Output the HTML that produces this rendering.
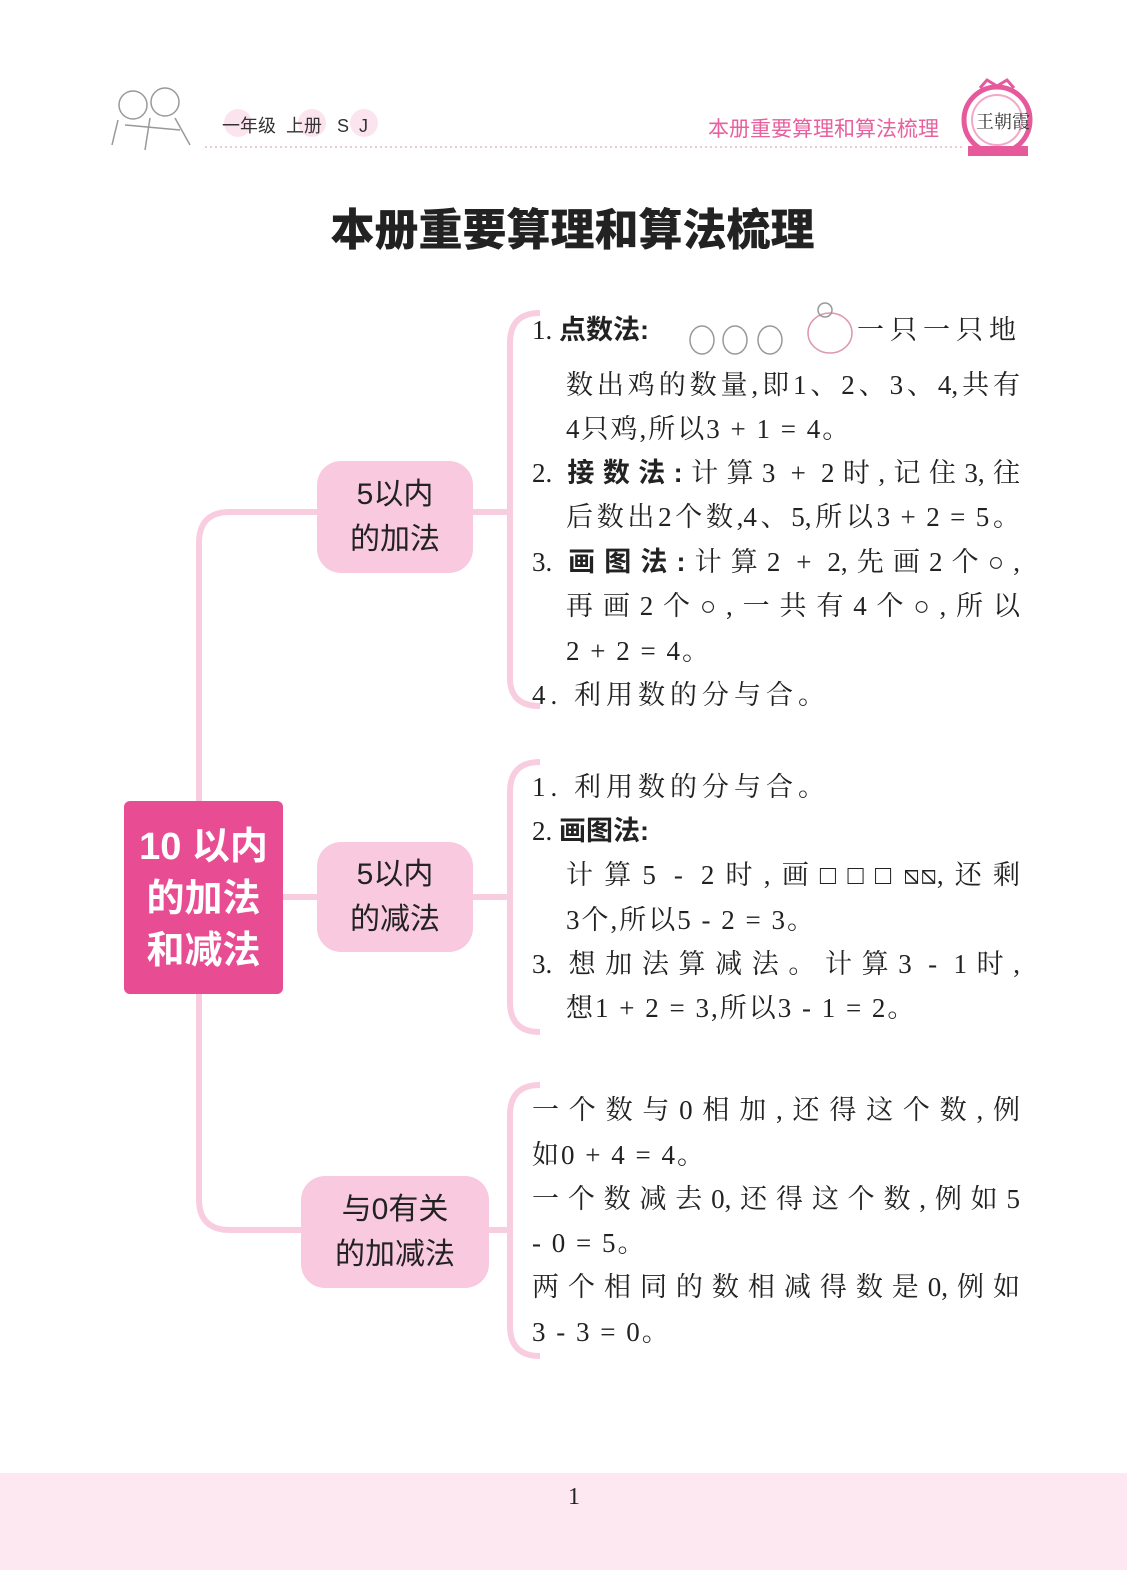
<!DOCTYPE html>
<html><head><meta charset="utf-8"><style>
*{margin:0;padding:0;box-sizing:border-box}
body{width:1127px;height:1570px;background:#fff;position:relative;overflow:hidden;font-family:"Liberation Sans","Noto Sans CJK SC",sans-serif}
.a{position:absolute}
.t{position:absolute;font-family:"Liberation Serif","Noto Serif CJK SC",serif;font-size:27px;color:#222;white-space:nowrap;line-height:1}
.j{text-align:justify;text-align-last:justify}
.n{position:absolute;background:#f9c9df;border-radius:24px;color:#222;font-size:30px;text-align:center;line-height:45px;display:flex;flex-direction:column;justify-content:center}
.b{font-weight:bold;font-family:"Liberation Sans","Noto Sans CJK SC",sans-serif}
</style></head><body>
<svg class="a" style="left:0;top:0" width="1127" height="170">
<g fill="none" stroke="#999" stroke-width="1.5"><circle cx="133" cy="105" r="14"/><circle cx="165" cy="102" r="14"/><path d="M118 120 L112 145 M150 118 L145 150 M175 118 L190 145 M125 125 L180 130"/></g>
<circle cx="238" cy="123" r="14" fill="#fce4ef"/><circle cx="312" cy="123" r="14" fill="#fce4ef"/><circle cx="364" cy="123" r="14" fill="#fce4ef"/>
<line x1="205" y1="147" x2="965" y2="147" stroke="#e8b8cc" stroke-width="1.5" stroke-dasharray="2 3"/>
<circle cx="997" cy="120" r="33" fill="#fff" stroke="#e65a9c" stroke-width="5"/>
<circle cx="997" cy="120" r="25" fill="none" stroke="#f2a8c8" stroke-width="2"/>
<rect x="968" y="146" width="60" height="10" fill="#e65a9c"/>
<path d="M980 88 L987 80 L997 86 L1007 80 L1014 88" fill="none" stroke="#e65a9c" stroke-width="3"/>
</svg>
<div class="a" style="left:222px;top:112px;font-size:18px;color:#333">一年级 &nbsp;上册 &nbsp;&nbsp;S&nbsp; J</div>
<div class="a" style="left:708px;top:113px;font-size:21px;color:#e8609e">本册重要算理和算法梳理</div>
<div class="a" style="left:976px;top:108px;font-size:18px;color:#333;font-family:'Noto Serif CJK SC',serif">王朝霞</div>
<div class="a b" style="left:0;width:1145px;top:194px;text-align:center;font-size:44px;color:#222;font-weight:900">本册重要算理和算法梳理</div>

<svg class="a" style="left:0;top:0" width="1127" height="1470" fill="none" stroke="#f9cde0" stroke-width="6">
<path d="M320 512 H230 Q199 512 199 543 V1199 Q199 1230 230 1230 H305"/>
<path d="M283 897 H320"/>
<path d="M473 512 H510"/><path d="M540 313 Q510 313 510 343 V678 Q510 706 540 706"/>
<path d="M473 897 H510"/><path d="M540 762 Q510 762 510 792 V1002 Q510 1032 540 1032"/>
<path d="M489 1230 H510"/><path d="M540 1085 Q510 1085 510 1115 V1326 Q510 1356 540 1356"/>
</svg>

<div class="a b" style="left:124px;top:801px;width:159px;height:193px;background:#e84c92;border-radius:6px;color:#fff;font-size:38px;line-height:52px;text-align:center;padding-top:20px">10 以内<br>的加法<br>和减法</div>
<div class="n" style="left:317px;top:461px;width:156px;height:112px">5以内<br>的加法</div>
<div class="n" style="left:317px;top:842px;width:156px;height:110px">5以内<br>的减法</div>
<div class="n" style="left:301px;top:1176px;width:188px;height:112px">与0有关<br>的加减法</div>

<div class="t" style="left:532px;top:317px">1. <span class="b">点数法:</span></div>
<svg class="a" style="left:680px;top:298px" width="180" height="62" fill="none" stroke="#999" stroke-width="1.5">
<ellipse cx="22" cy="42" rx="12" ry="14"/><ellipse cx="55" cy="42" rx="12" ry="14"/><ellipse cx="90" cy="42" rx="12" ry="14"/>
<ellipse cx="150" cy="35" rx="22" ry="20" stroke="#d9a"/><circle cx="145" cy="12" r="7"/></svg>
<div class="t" style="left:857px;top:317px;letter-spacing:6px">一只一只地</div>
<div class="t j" style="left:566px;top:372px;width:454px">数出鸡的数量,即1、2、3、4,共有</div>
<div class="t" style="left:566px;top:416px;letter-spacing:2px">4只鸡,所以3 + 1 = 4。</div>
<div class="t j" style="left:532px;top:460px;width:488px">2. <span class="b">接数法:</span>计算3 + 2时,记住3,往</div>
<div class="t j" style="left:566px;top:504px;width:454px">后数出2个数,4、5,所以3 + 2 = 5。</div>
<div class="t j" style="left:532px;top:549px;width:488px">3. <span class="b">画图法:</span>计算2 + 2,先画2个○,</div>
<div class="t j" style="left:566px;top:593px;width:454px">再画2个○,一共有4个○,所以</div>
<div class="t" style="left:566px;top:638px;letter-spacing:2px">2 + 2 = 4。</div>
<div class="t" style="left:532px;top:682px;letter-spacing:5px">4. 利用数的分与合。</div>

<div class="t" style="left:532px;top:774px;letter-spacing:5px">1. 利用数的分与合。</div>
<div class="t" style="left:532px;top:818px">2. <span class="b">画图法:</span></div>
<div class="t j" style="left:566px;top:862px;width:454px">计算5 - 2时,画□□□⧅⧅,还剩</div>
<div class="t" style="left:566px;top:907px;letter-spacing:2px">3个,所以5 - 2 = 3。</div>
<div class="t j" style="left:532px;top:951px;width:488px">3. 想加法算减法。计算3 - 1时,</div>
<div class="t" style="left:566px;top:995px;letter-spacing:2px">想1 + 2 = 3,所以3 - 1 = 2。</div>

<div class="t j" style="left:532px;top:1097px;width:488px">一个数与0相加,还得这个数,例</div>
<div class="t" style="left:532px;top:1142px;letter-spacing:2px">如0 + 4 = 4。</div>
<div class="t j" style="left:532px;top:1186px;width:488px">一个数减去0,还得这个数,例如5</div>
<div class="t" style="left:532px;top:1230px;letter-spacing:2px">- 0 = 5。</div>
<div class="t j" style="left:532px;top:1274px;width:488px">两个相同的数相减得数是0,例如</div>
<div class="t" style="left:532px;top:1319px;letter-spacing:2px">3 - 3 = 0。</div>

<div class="a" style="left:0;top:1473px;width:1127px;height:97px;background:#fde8f2"></div>
<div class="a" style="left:568px;top:1484px;font-size:24px;color:#222;font-family:'Liberation Serif',serif">1</div>
</body></html>
